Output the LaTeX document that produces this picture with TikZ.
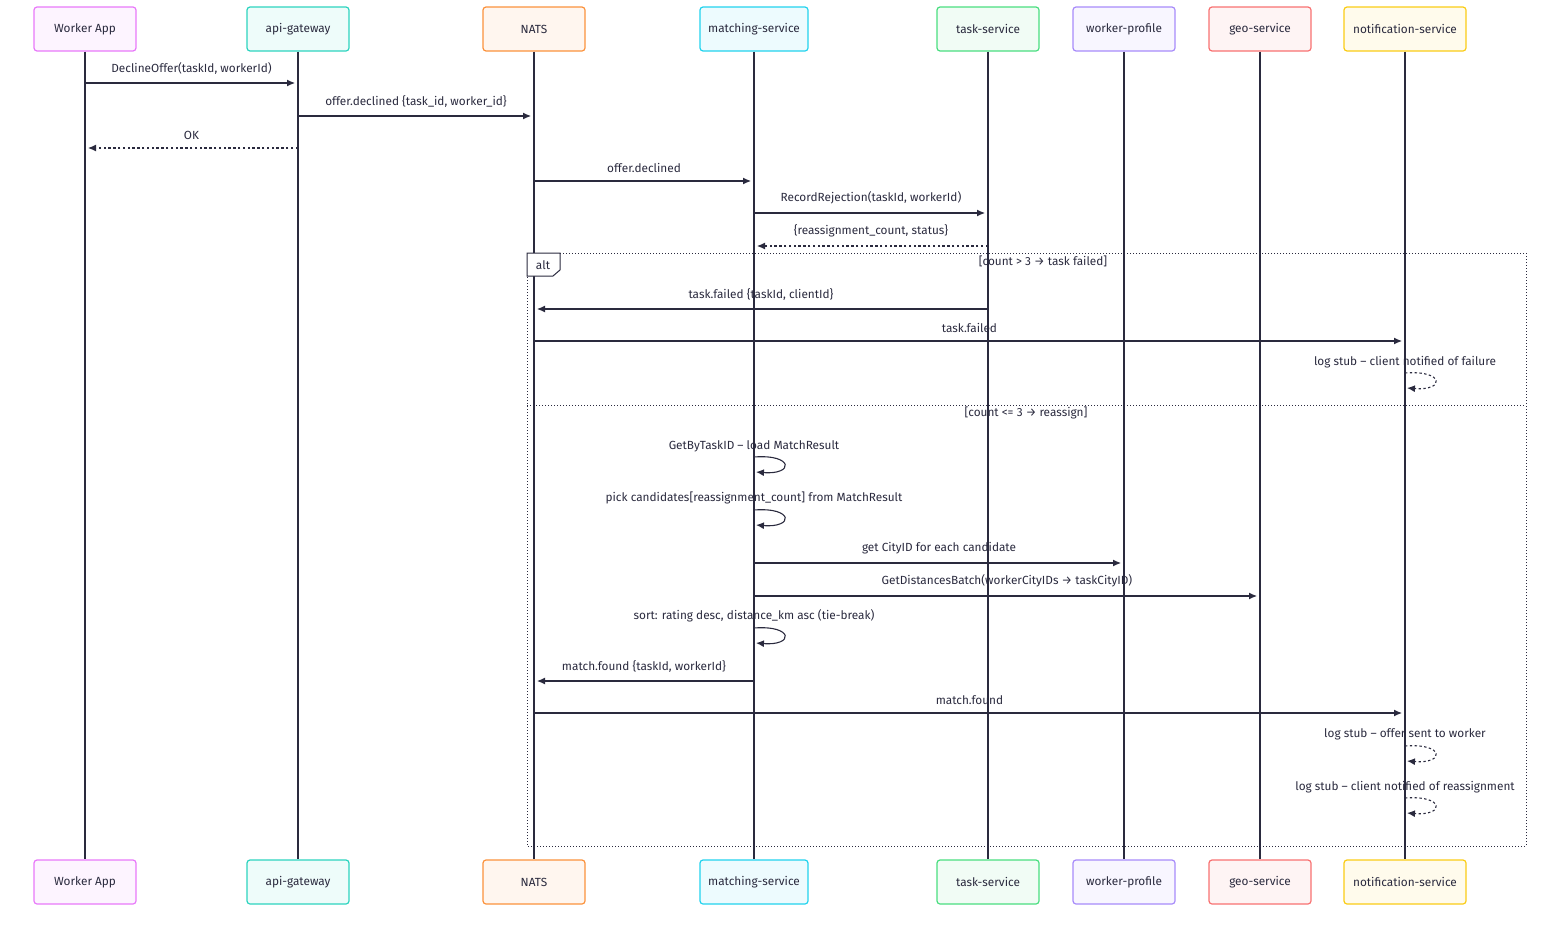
\documentclass[tikz,border=0pt]{standalone}
\usepackage{fontspec}
\setmainfont{Fira Sans}
\usetikzlibrary{arrows.meta}
\definecolor{ink}{HTML}{2A2A3E}
\begin{document}
\begin{tikzpicture}[x=0.5pt,y=-0.5pt,
  font=\fontsize{5.9}{7}\selectfont,
  actor/.style={draw=#1, fill=#1!8, rounded corners=1.5pt, line width=0.6pt,
    minimum width=51pt, minimum height=22pt, text=ink},
  life/.style={draw=ink, line width=0.6pt},
  msg/.style={draw=ink, line width=0.55pt, -{Latex[length=4pt,width=3.5pt]}, shorten >=1.5pt},
  reply/.style={msg, dash pattern=on 1.2pt off 1.2pt},
  lbl/.style={text=ink, inner sep=0pt}]
\useasboundingbox (0,0) rectangle (1560,932);
\definecolor{cWA}{HTML}{E879F9}\definecolor{cAG}{HTML}{2DD4BF}
\definecolor{cNA}{HTML}{FB923C}\definecolor{cMS}{HTML}{22D3EE}
\definecolor{cTS}{HTML}{4ADE80}\definecolor{cWP}{HTML}{A78BFA}
\definecolor{cGS}{HTML}{F87171}\definecolor{cNS}{HTML}{FACC15}
% lifelines and heads
\foreach \n/\x/\w/\c/\t in {wa/85/102/cWA/Worker App, ag/298/102/cAG/api-gateway,
    na/534/102/cNA/NATS, ms/754/108/cMS/matching-service, ts/988/102/cTS/task-service,
    wp/1124/102/cWP/worker-profile, gs/1260/102/cGS/geo-service,
    ns/1405/122/cNS/notification-service} {
  \node[actor=\c, minimum width=\w*0.5pt] (\n) at (\x,29) {\t};
  \node[actor=\c, minimum width=\w*0.5pt] (\n b) at (\x,882) {\t};
  \draw[life] (\n.south) -- (\n b.north);
}
% alt frame
\draw[ink, line width=0.5pt, densely dotted] (527,253) rectangle (1526,846);
\draw[ink, line width=0.5pt, densely dotted] (527,405) -- (1526,405);
\draw[ink, line width=0.5pt, fill=white] (527,253) -- (560,253) -- (560,270) -- (553,276) -- (527,276) -- cycle;
\node[lbl] (alt) at (543,265) {alt};
\node[lbl] (g1) at (1043,261) {[count > 3 → task failed]};
\node[lbl] (g2) at (1026,413) {[count <= 3 → reassign]};
% messages
\draw[msg] (wa |- 0,83) -- node[lbl, above=4pt] {DeclineOffer(taskId, workerId)} (ag |- 0,83);
\draw[msg] (ag |- 0,116) -- node[lbl, above=4pt] {offer.declined \{task\_id, worker\_id\}} (na |- 0,116);
\draw[reply] (ag |- 0,148) -- node[lbl, above=4pt] {OK} (wa |- 0,148);
\draw[msg] (na |- 0,181) -- node[lbl, above=4pt] {offer.declined} (ms |- 0,181);
\draw[msg] (ms |- 0,213) -- node[lbl, above=4pt] {RecordRejection(taskId, workerId)} (ts |- 0,213);
\draw[reply] (ts |- 0,246) -- node[lbl, above=4pt] {\{reassignment\_count, status\}} (ms |- 0,246);
\draw[msg] (ts |- 0,309) -- node[lbl, above=4pt] {task.failed \{taskId, clientId\}} (na |- 0,309);
\draw[msg] (na |- 0,341) -- node[lbl, above=4pt] {task.failed} (ns |- 0,341);
\node[lbl] (l1) at (1405,362) {log stub – client notified of failure};
\draw[reply, shorten >=0pt] (ns |- 0,373) .. controls (1445,370) and (1445,391) .. (1407,388);
\node[lbl] (l2) at (754,446) {GetByTaskID – load MatchResult};
\draw[msg, shorten >=0pt] (ms |- 0,457) .. controls (794,454) and (794,475) .. (756,472);
\node[lbl] (l3) at (754,498) {pick candidates[reassignment\_count] from MatchResult};
\draw[msg, shorten >=0pt] (ms |- 0,510) .. controls (794,507) and (794,528) .. (756,525);
\draw[msg] (ms |- 0,563) -- node[lbl, above=4pt] {get CityID for each candidate} (wp |- 0,563);
\draw[msg] (ms |- 0,596) -- node[lbl, above=4pt] {GetDistancesBatch(workerCityIDs → taskCityID)} (gs |- 0,596);
\node[lbl] (l4) at (754,616) {sort: rating desc, distance\_km asc (tie-break)};
\draw[msg, shorten >=0pt] (ms |- 0,628) .. controls (794,625) and (794,646) .. (756,643);
\draw[msg] (ms |- 0,681) -- node[lbl, above=4pt] {match.found \{taskId, workerId\}} (na |- 0,681);
\draw[msg] (na |- 0,713) -- node[lbl, above=4pt] {match.found} (ns |- 0,713);
\node[lbl] (l5) at (1405,734) {log stub – offer sent to worker};
\draw[reply, shorten >=0pt] (ns |- 0,746) .. controls (1445,743) and (1445,764) .. (1407,761);
\node[lbl] (l6) at (1405,787) {log stub – client notified of reassignment};
\draw[reply, shorten >=0pt] (ns |- 0,798) .. controls (1445,795) and (1445,816) .. (1407,813);
\end{tikzpicture}
\end{document}
